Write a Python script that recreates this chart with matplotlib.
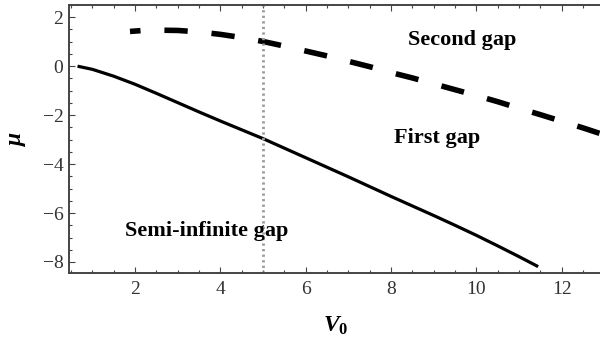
import numpy as np
import matplotlib
matplotlib.use('Agg')
import matplotlib.pyplot as plt
from matplotlib.ticker import MultipleLocator

plt.rcParams['font.family'] = 'Liberation Serif'
plt.rcParams['mathtext.fontset'] = 'custom'
plt.rcParams['mathtext.rm'] = 'Liberation Serif'
plt.rcParams['mathtext.it'] = 'Liberation Serif:italic:bold'
plt.rcParams['mathtext.bf'] = 'Liberation Serif:bold'

# first gap edge (solid)
v_first = [0.65, 1.0, 1.5, 2.0, 2.5, 3.0, 3.5, 4.0, 4.5, 5.0, 5.5, 6.0, 6.5, 7.0, 7.5, 8.0,
           8.5, 9.0, 9.5, 10.0, 10.5, 11.0, 11.45]
mu_first = [0.0, -0.13, -0.41, -0.74, -1.11, -1.49, -1.87, -2.24, -2.6, -2.96, -3.35, -3.74,
            -4.13, -4.52, -4.92, -5.32, -5.71, -6.1, -6.5, -6.91, -7.34, -7.78, -8.19]

# second gap edge (dashed)
v_second = [1.88, 2.2, 2.6, 3.0, 3.5, 4.0, 4.5, 5.0, 5.5, 6.0, 6.5, 7.0, 7.5, 8.0, 8.5, 9.0,
            9.5, 10.0, 10.5, 11.0, 11.5, 12.0, 12.5, 12.9]
mu_second = [1.42, 1.46, 1.47, 1.46, 1.40, 1.30, 1.17, 1.01, 0.82, 0.62, 0.42, 0.20, -0.02, -0.26,
             -0.48, -0.72, -0.96, -1.20, -1.45, -1.72, -1.98, -2.25, -2.52, -2.75]

v_mark = 5.0

regions = ['Second gap', 'First gap', 'Semi-infinite gap']
region_v = [9.66, 9.08, 3.68]
region_mu = [1.06, -2.94, -6.74]

fig = plt.figure(figsize=(6.0, 3.39), dpi=100)
ax = fig.add_axes([69/600., 66/339., 531/600., 268/339.])

ax.plot(v_first, mu_first, color='black', lw=2.3, solid_capstyle='butt')
ax.plot(v_second, mu_second, color='black', lw=4, linestyle=(2.3, (4.2, 4.3)))
ax.axvline(v_mark, color='#999999', lw=2, linestyle=(0, (0.8, 1.2)))

for txt, x, y in zip(regions, region_v, region_mu):
    ax.text(x, y, txt, ha='center', va='center', fontsize=16, fontweight='bold')

ax.set_xlim(0.45, 12.9)
ax.set_ylim(-8.45, 2.5)
ax.xaxis.set_major_locator(MultipleLocator(2))
ax.xaxis.set_minor_locator(MultipleLocator(0.5))
ax.yaxis.set_major_locator(MultipleLocator(2))
ax.yaxis.set_minor_locator(MultipleLocator(0.5))
ax.tick_params(which='both', direction='in', top=True, right=False, color='#444444',
               labelcolor='#333333', width=0.8)
ax.tick_params(which='major', length=4, labelsize=14)
ax.tick_params(which='minor', length=2.3)
ax.tick_params(axis='x', pad=6)
ax.tick_params(axis='y', pad=4)

for s in ['top', 'bottom', 'left']:
    ax.spines[s].set_linewidth(1.4)
    ax.spines[s].set_color('#444444')
ax.spines['right'].set_visible(False)

ax.set_xlabel(r'$V_{\mathbf{0}}$', fontsize=17, va='center')
ax.set_ylabel(r'$\mu$', fontsize=17, va='center')
ax.xaxis.set_label_coords((336 - 69) / 531., -(326 - 273) / 268.)
ax.yaxis.set_label_coords(-(69 - 18) / 531., 0.5)

fig.savefig('out.png', dpi=100)
